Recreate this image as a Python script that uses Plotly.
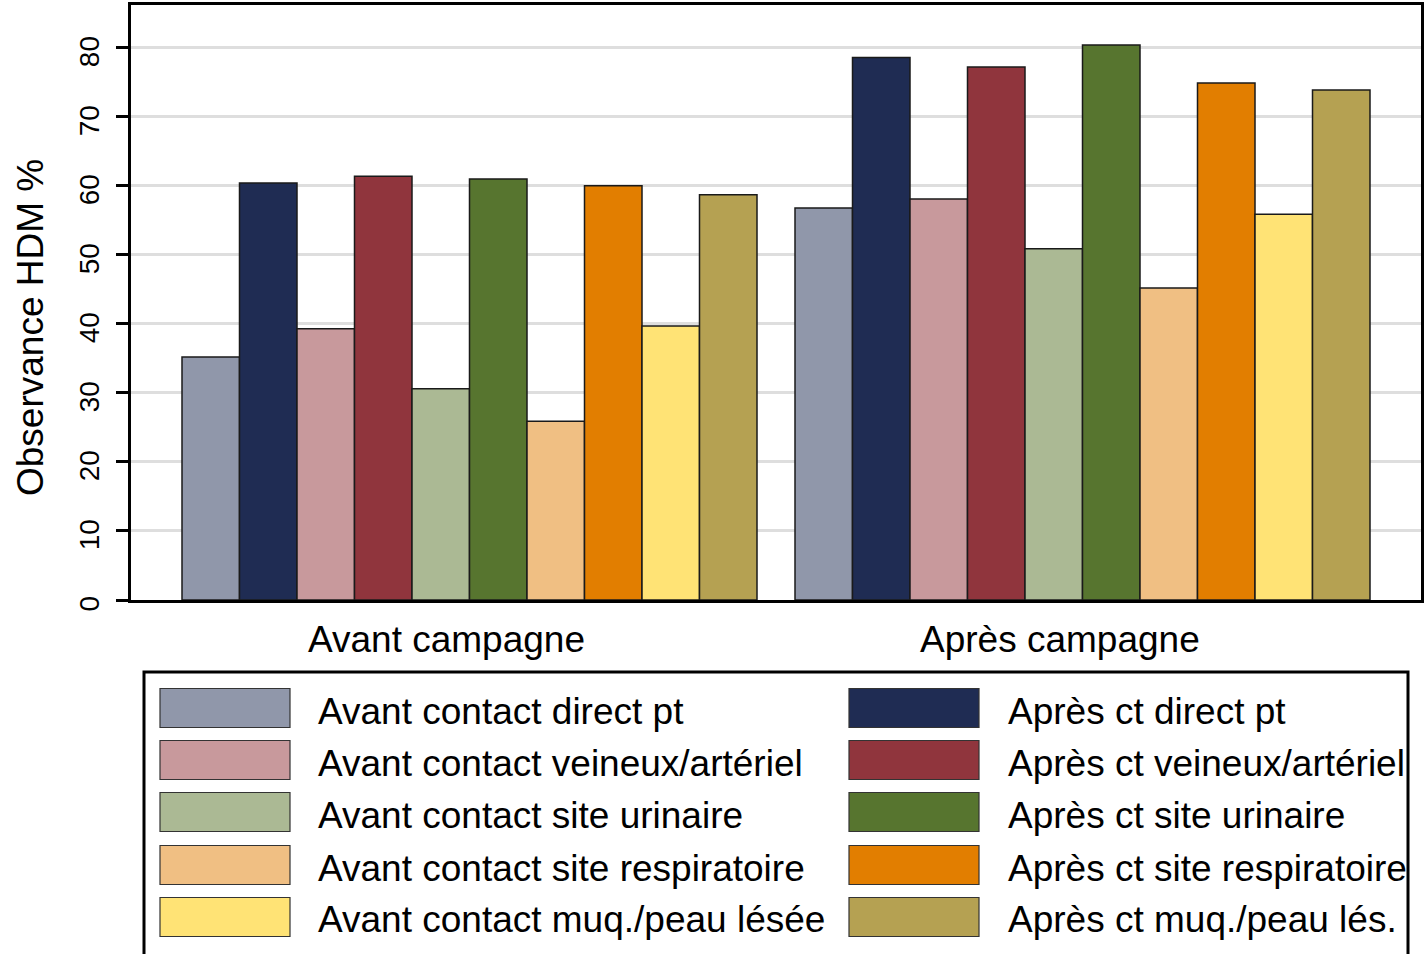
import plotly.graph_objects as go

# ---- data ----
categories = ["Avant campagne", "Après campagne"]
series_names = [
    "Avant contact direct pt", "Après ct direct pt",
    "Avant contact veineux/artériel", "Après ct veineux/artériel",
    "Avant contact site urinaire", "Après ct site urinaire",
    "Avant contact site respiratoire", "Après ct site respiratoire",
    "Avant contact muq./peau lésée", "Après ct muq./peau lés.",
]
avant_direct = [35.2, 56.8]
apres_direct = [60.4, 78.6]
avant_veineux = [39.3, 58.1]
apres_veineux = [61.4, 77.2]
avant_urinaire = [30.6, 50.9]
apres_urinaire = [61.0, 80.4]
avant_resp = [25.9, 45.2]
apres_resp = [60.0, 74.9]
avant_muq = [39.7, 55.9]
apres_muq = [58.7, 73.9]
series_values = [avant_direct, apres_direct, avant_veineux, apres_veineux,
                 avant_urinaire, apres_urinaire, avant_resp, apres_resp,
                 avant_muq, apres_muq]
colors = ["#9097AA", "#1F2C53", "#C8999C", "#90353D", "#ABB994",
          "#57752F", "#F0BF83", "#E27E00", "#FFE375", "#B5A152"]
y_ticks = [0, 10, 20, 30, 40, 50, 60, 70, 80]

FONT = "Liberation Sans, Arial, sans-serif"
W, H = 1424, 954
L, R, T, B = 131, 3, 5, 354

def px(x):
    return (x - L) / (W - L - R)

def py(y):
    return (H - B - y) / (H - T - B)

fig = go.Figure()
for name, vals, col in zip(series_names, series_values, colors):
    fig.add_trace(go.Bar(x=categories, y=vals, name=name,
                         marker=dict(color=col, line=dict(color="#1a1a1a", width=1.5))))

fig.update_layout(
    width=W, height=H,
    margin=dict(l=L, r=R, t=T, b=B, autoexpand=False),
    plot_bgcolor="white", paper_bgcolor="white",
    barmode="group", bargap=0.062, bargroupgap=0,
    showlegend=False,
    font=dict(family=FONT, color="black"),
)
fig.update_xaxes(range=[-0.5522, 1.5522], showticklabels=False, ticks="",
                 showline=True, linewidth=3, linecolor="black", mirror=True,
                 showgrid=False)
fig.update_yaxes(range=[0, 86.2], tickvals=y_ticks, tickangle=-90,
                 ticks="outside", ticklen=12, tickwidth=2.5, tickcolor="black",
                 tickfont=dict(size=28, family=FONT, color="black"),
                 ticklabelstandoff=6, ticklabelshift=8,
                 showline=True, linewidth=3, linecolor="black", mirror=True,
                 gridcolor="#DEDEDE", gridwidth=2.5, zeroline=False)

annotations = []
# category labels
for i, c in enumerate(categories):
    annotations.append(dict(x=c, xref="x", y=py(639), yref="paper", text=c,
                            showarrow=False, xanchor="center", yanchor="middle",
                            xshift=-23, font=dict(size=37, family=FONT)))
# y title
annotations.append(dict(x=px(30), y=py(328), xref="paper", yref="paper",
                        text="Observance HDM %", textangle=-90, showarrow=False,
                        xanchor="center", yanchor="middle",
                        font=dict(size=37, family=FONT)))

shapes = []
# legend frame
shapes.append(dict(type="rect", xref="paper", yref="paper",
                   x0=px(144), x1=px(1408), y0=py(672), y1=py(965),
                   line=dict(color="black", width=3), fillcolor="white", layer="below"))
row_centers = [708, 760, 812, 865, 917]
col_swatch_x = [160, 849]
col_text_x = [316, 1006]
for k, (name, col) in enumerate(zip(series_names, colors)):
    r, c = k // 2, k % 2
    yc = row_centers[r]
    shapes.append(dict(type="rect", xref="paper", yref="paper",
                       x0=px(col_swatch_x[c]), x1=px(col_swatch_x[c] + 130),
                       y0=py(yc - 19.5), y1=py(yc + 19.5),
                       fillcolor=col, line=dict(color="#333333", width=1.2)))
    annotations.append(dict(x=px(col_text_x[c]), y=py(yc + 3), xref="paper", yref="paper",
                            text=name, showarrow=False, xanchor="left", yanchor="middle",
                            font=dict(size=37, family=FONT)))

fig.update_layout(annotations=annotations, shapes=shapes)
fig.write_html("out.html", config={"displayModeBar": False},
               post_script="document.body.style.margin='0px';document.body.style.overflow='hidden';")
